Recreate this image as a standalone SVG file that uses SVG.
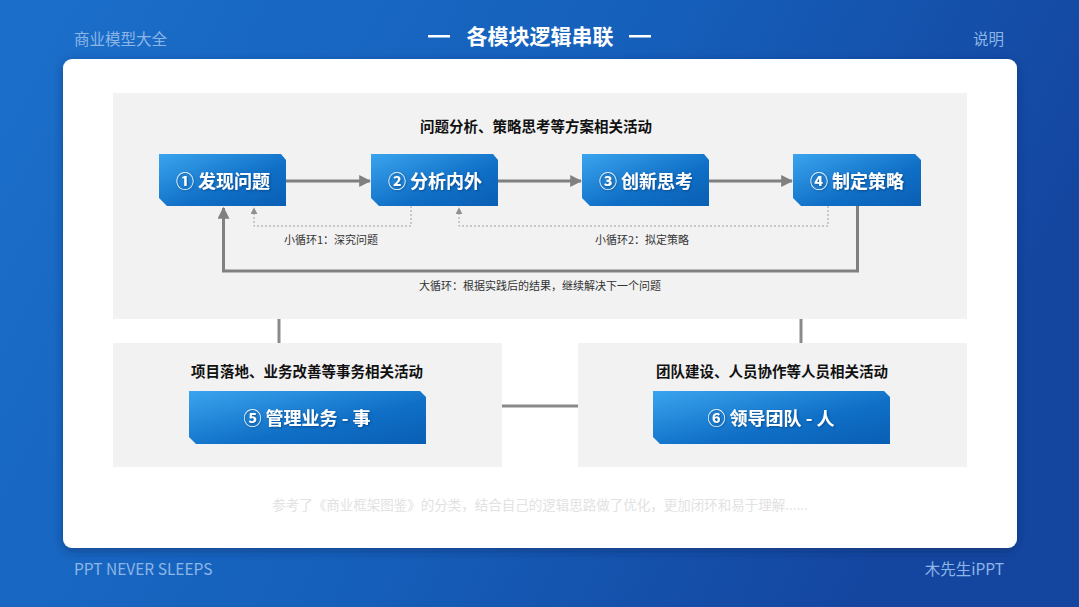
<svg xmlns="http://www.w3.org/2000/svg" width="1079" height="607" viewBox="0 0 1079 607">
<defs>
<linearGradient id="bg" x1="0" y1="0" x2="1" y2="0.3">
<stop offset="0" stop-color="#1b6fca"/>
<stop offset="0.55" stop-color="#1560bb"/>
<stop offset="1" stop-color="#1446a0"/>
</linearGradient>
<linearGradient id="nodeg" x1="0" y1="0" x2="1" y2="1">
<stop offset="0" stop-color="#3aa4ee"/>
<stop offset="0.6" stop-color="#0f6fc6"/>
<stop offset="1" stop-color="#0a5fb4"/>
</linearGradient>
<filter id="sh" x="-5%" y="-5%" width="110%" height="115%">
<feDropShadow dx="0" dy="3" stdDeviation="5" flood-color="#0a2a60" flood-opacity="0.5"/>
</filter>
<filter id="tsh" x="-10%" y="-20%" width="120%" height="150%">
<feDropShadow dx="1" dy="1" stdDeviation="0.8" flood-color="#03306a" flood-opacity="0.6"/>
</filter>
<marker id="ah" viewBox="0 0 10 10" refX="9" refY="5" markerWidth="4" markerHeight="4" orient="auto" markerUnits="strokeWidth">
<path d="M0,0 L10,5 L0,10 z" fill="#808080"/>
</marker>
<marker id="ahs" viewBox="0 0 10 10" refX="9" refY="5" markerWidth="7" markerHeight="7" orient="auto" markerUnits="strokeWidth">
<path d="M0,0 L10,5 L0,10 z" fill="#909090"/>
</marker>
</defs>
<style>
.hdr{font-family:"Noto Sans CJK SC","Liberation Sans",sans-serif;font-size:15.5px;fill:#8db6e6}
.ttl{font-family:"Noto Sans CJK SC","Liberation Sans",sans-serif;font-size:21px;font-weight:bold;fill:#ffffff}
.panel{fill:#f2f2f2}
.ptitle{font-family:"Noto Sans CJK SC",sans-serif;font-size:14.5px;font-weight:bold;fill:#111111;text-anchor:middle}
.node{fill:url(#nodeg)}
.ntext{font-family:"Noto Sans CJK SC",sans-serif;font-size:18px;font-weight:bold;fill:#ffffff;text-anchor:middle;filter:url(#tsh)}
.lbl{font-family:"Noto Sans CJK SC",sans-serif;font-size:11px;fill:#333333;text-anchor:middle}
.arr{stroke:#808080;stroke-width:3;fill:none}
.dot{stroke:#a0a0a0;stroke-width:1;stroke-dasharray:2 2;fill:none}
.conn{stroke:#8a8a8a;stroke-width:3;fill:none}
.note{font-family:"Noto Sans CJK SC",sans-serif;font-size:13.5px;fill:#e2e2e2;text-anchor:middle}
</style>
<rect x="0" y="0" width="1079" height="607" fill="url(#bg)"/>
<text class="hdr" x="74" y="45">商业模型大全</text>
<text class="hdr" x="1004" y="45" text-anchor="end">说明</text>
<rect x="428" y="35" width="22" height="2.5" fill="#ffffff"/>
<text class="ttl" x="540" y="44" text-anchor="middle">各模块逻辑串联</text>
<rect x="629" y="35" width="22" height="2.5" fill="#ffffff"/>
<text class="hdr" x="74" y="575" font-family="'Open Sans',sans-serif" font-size="16">PPT NEVER SLEEPS</text>
<text class="hdr" x="1004" y="575" text-anchor="end" font-size="16">木先生iPPT</text>
<rect x="63" y="59" width="954" height="489" rx="9" fill="#ffffff" filter="url(#sh)"/>

<g id="panel-top"><rect class="panel" x="113" y="93" width="854" height="226"/>
<text class="ptitle" x="536" y="132">问题分析、策略思考等方案相关活动</text></g>
<g id="panel-bl"><rect class="panel" x="113" y="343" width="389" height="124"/>
<text class="ptitle" x="307" y="377">项目落地、业务改善等事务相关活动</text></g>
<g id="panel-br"><rect class="panel" x="578" y="343" width="389" height="124"/>
<text class="ptitle" x="772" y="377">团队建设、人员协作等人员相关活动</text></g>

<g id="connectors">
<line class="arr" x1="286" y1="181" x2="370" y2="181" marker-end="url(#ah)"/>
<line class="arr" x1="498" y1="181" x2="581" y2="181" marker-end="url(#ah)"/>
<line class="arr" x1="709" y1="181" x2="792" y2="181" marker-end="url(#ah)"/>
<polyline class="dot" points="411,206 411,226 254,226 254,208" marker-end="url(#ahs)"/>
<polyline class="dot" points="828,206 828,226 459,226 459,208" marker-end="url(#ahs)"/>
<polyline class="arr" points="857.5,206 857.5,271 223.5,271 223.5,208" marker-end="url(#ah)"/>
<line class="conn" x1="279" y1="319" x2="279" y2="343"/>
<line class="conn" x1="801" y1="319" x2="801" y2="343"/>
<line class="conn" x1="502" y1="406" x2="578" y2="406"/>
</g>
<text class="lbl" x="331" y="244">小循环1：深究问题</text>
<text class="lbl" x="642" y="244">小循环2：拟定策略</text>
<text class="lbl" x="540" y="290">大循环：根据实践后的结果，继续解决下一个问题</text>

<g id="n1"><path class="node" d="M159,154 H281 L286,160 V206 H167 L159,198 Z"/><text class="ntext" x="223" y="188">① 发现问题</text></g>
<g id="n2"><path class="node" d="M371,154 H493 L498,160 V206 H379 L371,198 Z"/><text class="ntext" x="435" y="188">② 分析内外</text></g>
<g id="n3"><path class="node" d="M582,154 H704 L709,160 V206 H590 L582,198 Z"/><text class="ntext" x="646" y="188">③ 创新思考</text></g>
<g id="n4"><path class="node" d="M793,154 H915 L921,160 V206 H801 L793,198 Z"/><text class="ntext" x="857" y="188">④ 制定策略</text></g>
<g id="n5"><path class="node" d="M189,391 H420 L426,397 V444 H196 L189,437 Z"/><text class="ntext" x="307" y="425">⑤ 管理业务 - 事</text></g>
<g id="n6"><path class="node" d="M653,391 H884 L890,397 V444 H660 L653,437 Z"/><text class="ntext" x="771" y="425">⑥ 领导团队 - 人</text></g>

<text class="note" x="540" y="510">参考了《商业框架图鉴》的分类，结合自己的逻辑思路做了优化，更加闭环和易于理解......</text>
</svg>
